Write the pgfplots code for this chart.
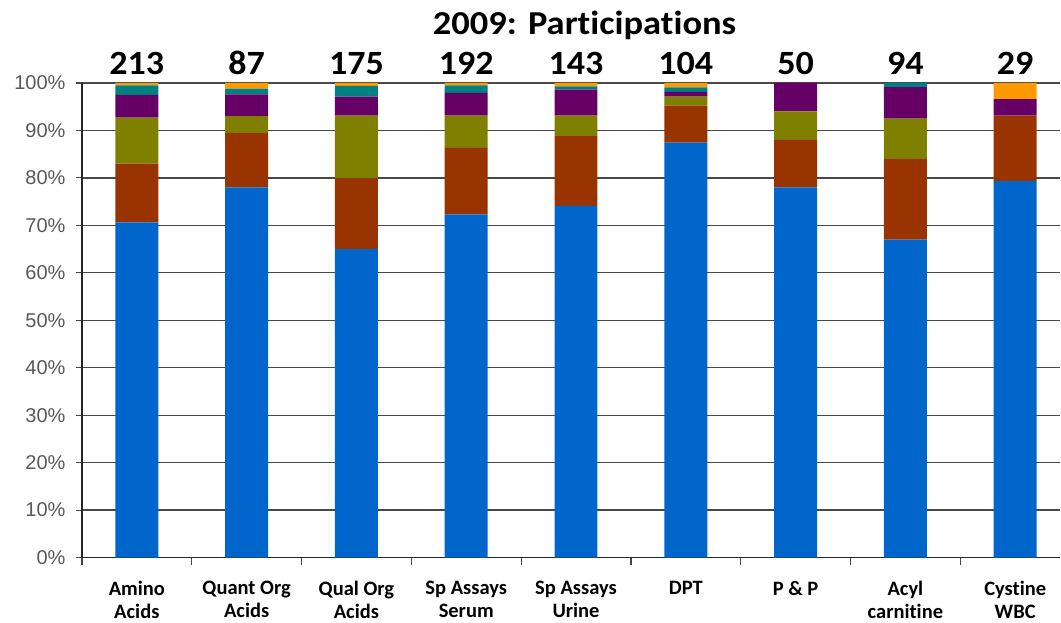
\documentclass[border=0pt]{standalone}
\usepackage{graphicx}
\usepackage{pgfplots}
\pgfplotsset{compat=1.18}
\usepackage{fontspec}
\setmainfont{Carlito}[Ligatures=NoCommon]
\newfontfamily\arialfont{Liberation Sans}
\definecolor{cblue}{HTML}{0066CC}
\definecolor{cred}{HTML}{993300}
\definecolor{colive}{HTML}{808000}
\definecolor{cpurple}{HTML}{660066}
\definecolor{cteal}{HTML}{008080}
\definecolor{corange}{HTML}{FF9900}
\definecolor{gridc}{HTML}{484848}
\tikzset{numlab/.style={font=\bfseries\fontsize{34}{34}\selectfont, anchor=base, yshift=8pt}}
\newcommand\wide[1]{\scalebox{1.06}[1]{#1}}
\begin{document}
\begin{tikzpicture}
\begin{axis}[
  at={(0,0)}, anchor=south west,
  scale only axis, width=979pt, height=475pt,
  ybar stacked, bar width=43pt,
  xmin=-0.5, xmax=8.41, ymin=0, ymax=100,
  clip=false,
  axis x line*=bottom, axis y line*=left,
  axis line style={draw=black!85, line width=1.6pt},
  ymajorgrids, grid style={draw=gridc, line width=1.3pt},
  ytick={0,10,...,100},
  /pgf/number format/assume math mode=true,
  yticklabel={\pgfmathprintnumber{\tick}\%},
  yticklabel style={font=\arialfont\fontsize{20}{20}\selectfont, text=black!65, xshift=-7pt},
  xtick={0,...,8},
  xticklabels={Amino\\Acids, Quant Org\\Acids, Qual Org\\Acids, Sp Assays\\Serum, Sp Assays\\Urine, DPT, P \& P, Acyl\\carnitine, Cystine\\WBC},
  xticklabel style={font=\bfseries\fontsize{20.5}{23}\selectfont, align=center, anchor=north, yshift=-14pt},
  minor xtick={-0.5,0.5,1.5,...,7.5},
  tick align=outside,
  major x tick style={draw=none},
  minor tick length=7pt, major tick length=6pt,
  tick style={draw=gridc, line width=1.2pt},
  every axis plot/.append style={draw=none},
]
\addplot[fill=cblue] coordinates {(0,70.6) (1,78.0) (2,65.0) (3,72.3) (4,74.1) (5,87.4) (6,78) (7,67.0) (8,79.3)};
\addplot[fill=cred] coordinates {(0,12.4) (1,11.5) (2,14.9) (3,14.0) (4,14.7) (5,7.8) (6,10) (7,17.0) (8,13.8)};
\addplot[fill=colive] coordinates {(0,9.7) (1,3.5) (2,13.2) (3,6.8) (4,4.3) (5,1.9) (6,6) (7,8.5) (8,0)};
\addplot[fill=cpurple] coordinates {(0,4.8) (1,4.6) (2,4.0) (3,4.8) (4,5.5) (5,1.0) (6,6) (7,6.6) (8,3.5)};
\addplot[fill=cteal] coordinates {(0,2.0) (1,1.2) (2,2.3) (3,1.6) (4,0.7) (5,0.95) (6,0) (7,0.9) (8,0)};
\addplot[fill=corange] coordinates {(0,0.5) (1,1.2) (2,0.6) (3,0.5) (4,0.7) (5,0.95) (6,0) (7,0) (8,3.4)};
\node[numlab] at (axis cs:0,100) {\wide{213}};
\node[numlab] at (axis cs:1,100) {\wide{87}};
\node[numlab] at (axis cs:2,100) {\wide{175}};
\node[numlab] at (axis cs:3,100) {\wide{192}};
\node[numlab] at (axis cs:4,100) {\wide{143}};
\node[numlab] at (axis cs:5,100) {\wide{104}};
\node[numlab] at (axis cs:6,100) {\wide{50}};
\node[numlab] at (axis cs:7,100) {\wide{94}};
\node[numlab] at (axis cs:8,100) {\wide{29}};
\end{axis}
\node[font=\bfseries\fontsize{33.5}{33.5}\selectfont, anchor=base] at (503pt,523pt) {\scalebox{1.09}[1]{2009: Participations}};
\path[use as bounding box] (-82pt,-65pt) rectangle (979pt,558pt);
\end{tikzpicture}
\end{document}
